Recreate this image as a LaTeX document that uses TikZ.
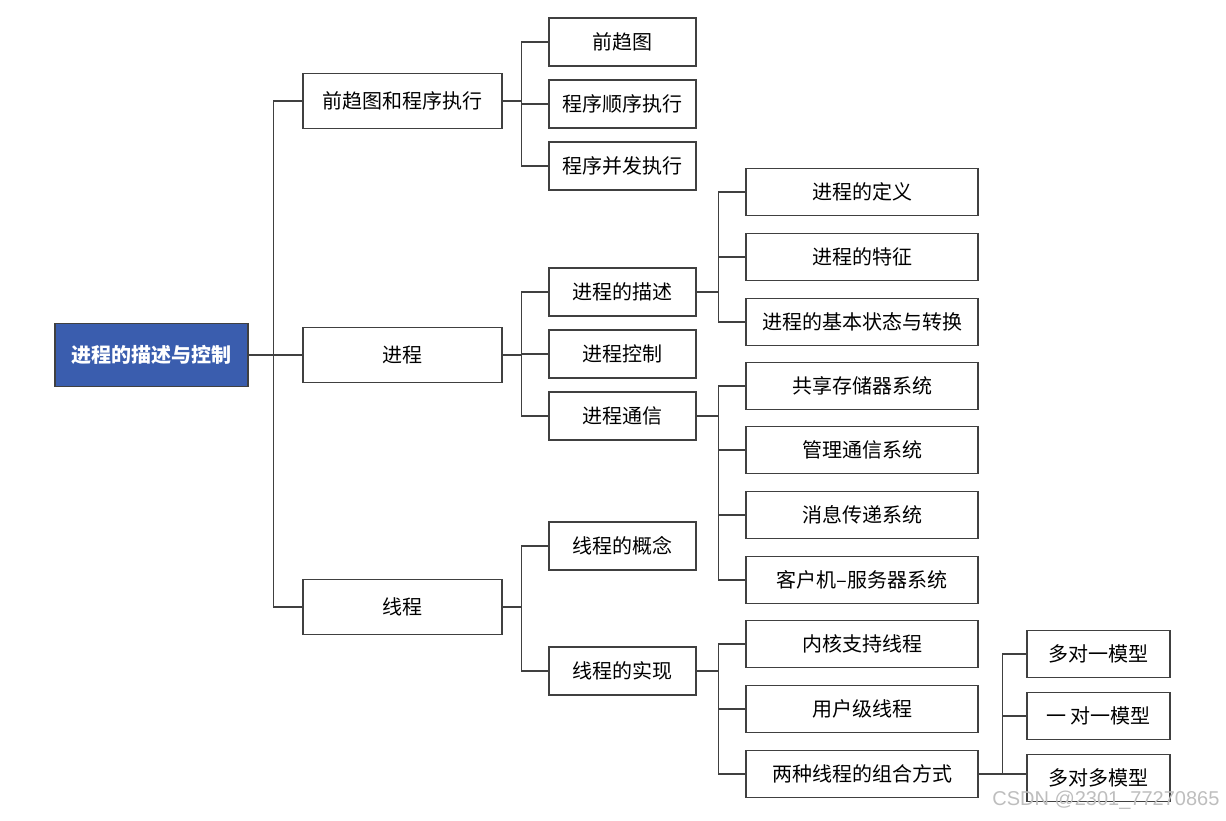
\documentclass[tikz,border=0pt]{standalone}
\usepackage{fontspec}
\setmainfont{Noto Sans CJK SC}
\setsansfont{Liberation Sans}
\definecolor{rootblue}{RGB}{58,93,174}
\definecolor{boxline}{RGB}{64,64,64}
\definecolor{wmgray}{RGB}{190,190,190}
\usepackage{tikz}

\begin{document}
\begin{tikzpicture}[x=1pt, y=-1pt,
  rootbox/.style={draw=boxline, fill=rootblue, text=white, font=\fontsize{20}{22}\selectfont\bfseries, minimum width=193pt, minimum height=63pt, line width=1.4pt},
  lvlone/.style={draw=boxline, fill=white, font=\fontsize{20}{22}\selectfont, minimum width=199pt, minimum height=55pt, line width=1.4pt},
  lvltwo/.style={draw=boxline, fill=white, font=\fontsize{20}{22}\selectfont, minimum width=147pt, minimum height=48pt, line width=1.4pt},
  lvlthree/.style={draw=boxline, fill=white, font=\fontsize{20}{22}\selectfont, minimum width=232pt, minimum height=47pt, line width=1.4pt},
  lvlfour/.style={draw=boxline, fill=white, font=\fontsize{20}{22}\selectfont, minimum width=143pt, minimum height=47pt, line width=1.4pt},
  link/.style={draw=boxline, line width=1.4pt}
]
\useasboundingbox (0,0) rectangle (1226,820);

\node[rootbox] (root) at (151.5, 355) {进程的描述与控制};

\node[lvlone] (qqt)  at (402.5, 101) {前趋图和程序执行};
\node[lvlone] (jc)   at (402.5, 355) {进程};
\node[lvlone] (xc)   at (402.5, 607) {线程};

\node[lvltwo] (qqtu) at (622.5, 42)  {前趋图};
\node[lvltwo] (sxzx) at (622.5, 104) {程序顺序执行};
\node[lvltwo] (bfzx) at (622.5, 166) {程序并发执行};
\node[lvltwo] (jcms) at (622.5, 292) {进程的描述};
\node[lvltwo] (jckz) at (622.5, 354) {进程控制};
\node[lvltwo] (jctx) at (622.5, 416) {进程通信};
\node[lvltwo] (xcgn) at (622.5, 546) {线程的概念};
\node[lvltwo] (xcsx) at (622.5, 671) {线程的实现};

\node[lvlthree] (dy)   at (862, 192) {进程的定义};
\node[lvlthree] (tz)   at (862, 257) {进程的特征};
\node[lvlthree] (zt)   at (862, 322) {进程的基本状态与转换};
\node[lvlthree] (gxcc) at (862, 386) {共享存储器系统};
\node[lvlthree] (gltx) at (862, 450) {管理通信系统};
\node[lvlthree] (xxcd) at (862, 515) {消息传递系统};
\node[lvlthree] (khj)  at (862, 580) {客户机–服务器系统};
\node[lvlthree] (nhzc) at (862, 644) {内核支持线程};
\node[lvlthree] (yhj)  at (862, 709) {用户级线程};
\node[lvlthree] (zhfs) at (862, 774) {两种线程的组合方式};

\node[lvlfour] (dyy) at (1098.5, 654) {多对一模型};
\node[lvlfour] (yyy) at (1098.5, 716) {一 对一模型};
\node[lvlfour] (ddd) at (1098.5, 778) {多对多模型};

% connectors
\foreach \c in {qqt, jc, xc}
  \draw[link] (root.east) -- ++(25,0) |- (\c.west);
\foreach \c in {qqtu, sxzx, bfzx}
  \draw[link] (qqt.east) -- ++(19,0) |- (\c.west);
\foreach \c in {jcms, jckz, jctx}
  \draw[link] (jc.east) -- ++(19,0) |- (\c.west);
\foreach \c in {xcgn, xcsx}
  \draw[link] (xc.east) -- ++(19,0) |- (\c.west);
\foreach \c in {dy, tz, zt}
  \draw[link] (jcms.east) -- ++(22,0) |- (\c.west);
\foreach \c in {gxcc, gltx, xxcd, khj}
  \draw[link] (jctx.east) -- ++(22,0) |- (\c.west);
\foreach \c in {nhzc, yhj, zhfs}
  \draw[link] (xcsx.east) -- ++(22,0) |- (\c.west);
\foreach \c in {dyy, yyy}
  \draw[link] (zhfs.east) -- ++(24,0) |- (\c.west);
\draw[link] (zhfs.east) -- (ddd.west |- zhfs.east);

% watermark
\node[text=wmgray, font=\sffamily\fontsize{20}{22}\selectfont, anchor=east] (wm) at (1223, 800) {CSDN @2301\_77270865};

\end{tikzpicture}
\end{document}
